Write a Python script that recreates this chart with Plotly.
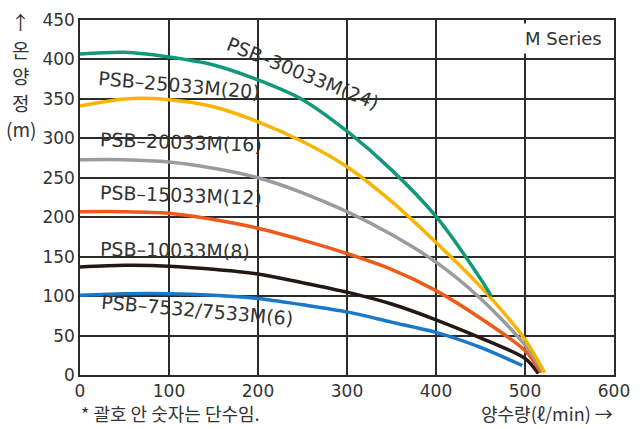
import plotly.graph_objects as go

# ---- data ----
x_green = [0, 50, 100, 150, 200, 250, 300, 350, 400, 450, 462]
y_green = [407, 409, 403, 393, 374, 349, 309, 260, 201, 122, 100]

x_yellow = [0, 50, 100, 150, 200, 250, 300, 350, 400, 450, 500, 522]
y_yellow = [341, 350, 349, 340, 321, 296, 264, 220, 168, 112, 45, 3]

x_gray = [0, 50, 100, 150, 200, 250, 300, 350, 400, 450, 500, 520]
y_gray = [273, 273, 270, 262, 250, 231, 207, 178, 143, 97, 38, 4]

x_orange = [0, 50, 100, 150, 200, 250, 300, 350, 400, 450, 500, 518]
y_orange = [207, 207, 205, 197, 186, 171, 154, 134, 107, 72, 31, 3]

x_black = [0, 50, 100, 150, 200, 250, 300, 350, 400, 450, 500, 515]
y_black = [137, 139, 138, 134, 128, 117, 105, 90, 70, 47, 21, 2]

x_blue = [0, 50, 100, 150, 200, 250, 300, 350, 400, 450, 497]
y_blue = [101, 103, 103, 101, 97, 89, 80, 67, 54, 35, 12]

series = [
    ("PSB–30033M(24)", x_green, y_green, "#12987a"),
    ("PSB–25033M(20)", x_yellow, y_yellow, "#f7b500"),
    ("PSB–20033M(16)", x_gray, y_gray, "#9b9b9b"),
    ("PSB–15033M(12)", x_orange, y_orange, "#ee5a17"),
    ("PSB–10033M(8)", x_black, y_black, "#231815"),
    ("PSB–7532/7533M(6)", x_blue, y_blue, "#1878c9"),
]

# label anchor (data coords) and angle
label_x = [250, 111, 114, 114, 107, 131]
label_y = [383, 367, 295, 228, 159, 82]
label_angle = [22, 5, 2, 2, 1, 5]

x_ticks = [0, 100, 200, 300, 400, 500, 600]
y_ticks = [0, 50, 100, 150, 200, 250, 300, 350, 400, 450]

# stacked y-axis title pieces and their paper y positions
ytitle_parts = ["↑", "온", "양", "정", "(m)"]
ytitle_pos = [0.995, 0.918, 0.844, 0.767, 0.693]

LAT = "DejaVu Sans, Noto Sans CJK KR"
KR = "Noto Sans CJK KR"
TXT = "#333333"

fig = go.Figure()
for name, xs, ys, col in series[::-1]:
    fig.add_trace(go.Scatter(x=xs, y=ys, mode="lines", name=name,
                             line=dict(color=col, width=3.5, shape="spline", smoothing=0.8),
                             showlegend=False, hoverinfo="skip"))

for (name, _, _, _), lx, ly, ang in zip(series, label_x, label_y, label_angle):
    fig.add_annotation(x=lx, y=ly, text=name, showarrow=False, textangle=ang,
                       xanchor="center", yanchor="middle",
                       font=dict(family=LAT, size=19, color=TXT))

fig.add_annotation(x=0.905, y=0.948, xref="paper", yref="paper", text="M Series",
                   xanchor="center", yanchor="middle",
                   showarrow=False, bgcolor="white", borderpad=4,
                   font=dict(family=LAT, size=18, color=TXT))

for part, py in zip(ytitle_parts, ytitle_pos):
    fig.add_annotation(x=-0.111, y=py, xref="paper", yref="paper", text=part,
                       showarrow=False, xanchor="center", yanchor="middle",
                       font=dict(family=KR, size=19, color=TXT))

fig.add_annotation(x=0.0, y=-0.106, xref="paper", yref="paper",
                   text="* 괄호 안 숫자는 단수임.", showarrow=False,
                   xanchor="left", yanchor="middle", borderpad=0,
                   font=dict(family=KR, size=18, color=TXT))
fig.add_annotation(x=1.0, y=-0.106, xref="paper", yref="paper",
                   text="양수량(ℓ/min) →", showarrow=False,
                   xanchor="right", yanchor="middle", borderpad=0,
                   font=dict(family=KR, size=18, color=TXT))

axis_common = dict(showgrid=True, gridcolor="#2b2b2b", gridwidth=1.5,
                   showline=True, linecolor="#2b2b2b", linewidth=1.5, mirror=True,
                   zeroline=False, ticks="", ticklabeloverflow="allow",
                   tickfont=dict(family=LAT, size=17, color=TXT))

fig.update_xaxes(range=[0, 600], tickvals=x_ticks, **axis_common)
fig.update_yaxes(range=[0, 450], tickvals=y_ticks, **axis_common)

fig.update_layout(width=640, height=429,
                  margin=dict(l=80, r=21, t=10, b=54),
                  plot_bgcolor="white", paper_bgcolor="white")

fig.write_html("out.html", config={"displayModeBar": False},
               post_script="document.body.style.margin='0px';document.body.style.padding='0px';")
